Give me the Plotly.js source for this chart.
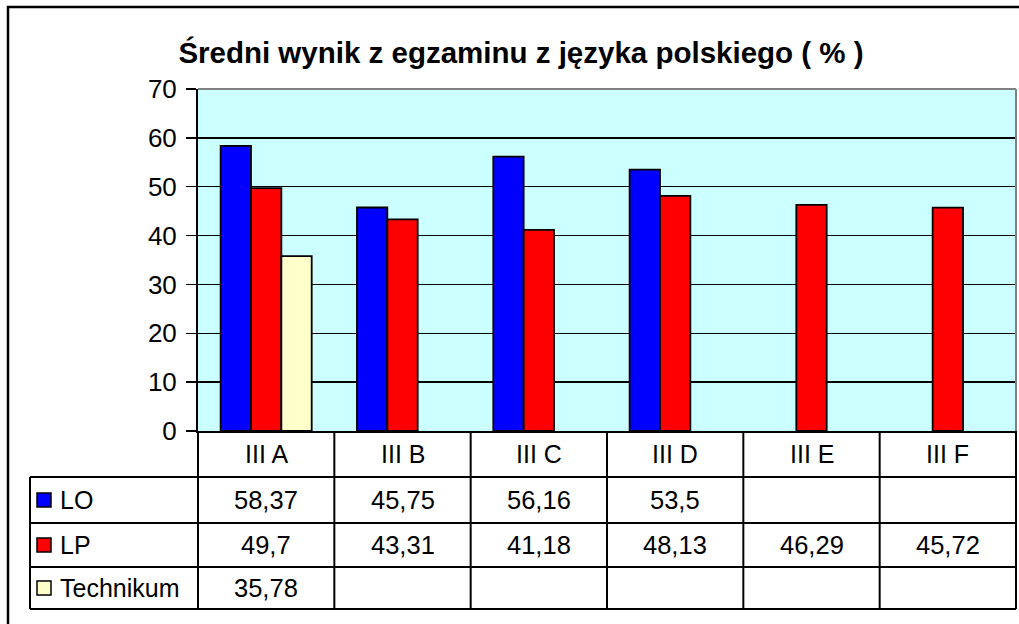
<!DOCTYPE html>
<html>
<head>
<meta charset="utf-8">
<script src="https://cdn.plot.ly/plotly-3.0.1.min.js"></script>
<style>html,body{margin:0;padding:0;background:#fff;}#chart{width:1019px;height:624px;}</style>
</head>
<body>
<div id="chart"></div>
<script>
var categories = ["III A", "III B", "III C", "III D", "III E", "III F"];
var seriesNames = ["LO", "LP", "Technikum"];
var LO = [58.37, 45.75, 56.16, 53.5, null, null];
var LP = [49.7, 43.31, 41.18, 48.13, 46.29, 45.72];
var Technikum = [35.78, null, null, null, null, null];
var seriesValues = [LO, LP, Technikum];
var seriesColors = ["#0000FF", "#FF0000", "#FFFFCC"];
var yTicks = [0, 10, 20, 30, 40, 50, 60, 70];
var titleText = "Średni wynik z egzaminu z języka polskiego ( % )";

// geometry (pixels)
var W = 1019, H = 624;
var L = 198, R = 1016, T = 89, B = 431;
var PW = R - L, PH = B - T;
function px(x) { return (x - L) / PW; }
function py(y) { return (B - y) / PH; }
var rowBottoms = [477, 523, 567, 609];
var legendLeft = 30;
var FONT = "Arial, 'Liberation Sans', sans-serif";

var traces = seriesNames.map(function (n, k) {
  return {
    type: "bar", name: n, x: categories, y: seriesValues[k],
    marker: { color: seriesColors[k], line: { color: "#000", width: 1.8 } },
    hoverinfo: "x+y"
  };
});

var shapes = [];
var annotations = [];
var n = categories.length;
rowBottoms.forEach(function (yb) {
  shapes.push({ type: "line", xref: "paper", yref: "paper",
    x0: px(legendLeft), x1: 1, y0: py(yb), y1: py(yb),
    line: { color: "#000", width: 2 } });
});
shapes.push({ type: "line", xref: "paper", yref: "paper", x0: px(legendLeft), x1: px(legendLeft),
  y0: py(rowBottoms[0]), y1: py(rowBottoms[3]), line: { color: "#000", width: 2 } });
for (var i = 0; i <= n; i++) {
  shapes.push({ type: "line", xref: "paper", yref: "paper", x0: i / n, x1: i / n,
    y0: 0, y1: py(rowBottoms[3]), line: { color: "#000", width: 2 } });
}
shapes.push({ type: "line", xref: "paper", yref: "paper", x0: 0, x1: 1, y0: 1, y1: 1, line: { color: "#808080", width: 2 } });
shapes.push({ type: "line", xref: "paper", yref: "paper", x0: 1, x1: 1, y0: 0, y1: 1, line: { color: "#808080", width: 2 } });
shapes.push({ type: "rect", xref: "paper", yref: "paper", x0: px(8), x1: px(1040), y0: py(7), y1: py(660),
  line: { color: "#000", width: 2.5 }, layer: "below" });

categories.forEach(function (c, i) {
  annotations.push({ xref: "paper", yref: "paper", x: (i + 0.5) / n, y: py((B + rowBottoms[0]) / 2),
    text: c, showarrow: false, xanchor: "center", yanchor: "middle",
    font: { family: FONT, size: 25, color: "#000" } });
});
var rowTops = [rowBottoms[0], rowBottoms[1], rowBottoms[2]];
seriesNames.forEach(function (s, k) {
  var yc = (rowTops[k] + rowBottoms[k + 1]) / 2;
  shapes.push({ type: "rect", xref: "paper", yref: "paper", x0: px(37), x1: px(51),
    y0: py(yc - 7), y1: py(yc + 7), fillcolor: seriesColors[k], line: { color: "#000", width: 1.5 } });
  annotations.push({ xref: "paper", yref: "paper", x: px(58), y: py(yc), text: s, showarrow: false,
    xanchor: "left", yanchor: "middle", font: { family: FONT, size: 25, color: "#000" } });
  seriesValues[k].forEach(function (v, i) {
    if (v === null) return;
    annotations.push({ xref: "paper", yref: "paper", x: (i + 0.5) / n, y: py(yc),
      text: String(v).replace(".", ","), showarrow: false, xanchor: "center", yanchor: "middle",
      font: { family: FONT, size: 25.5, color: "#000" } });
  });
});

var layout = {
  width: W, height: H,
  margin: { l: L, r: W - R, t: T, b: H - B, pad: 0 },
  paper_bgcolor: "#FFFFFF", plot_bgcolor: "#CCFFFF",
  title: { text: "<b>" + titleText + "</b>", x: 521 / W, xanchor: "center", xref: "container",
    y: 1 - 53 / H, yanchor: "middle", yref: "container",
    font: { family: FONT, size: 29.5, color: "#000" } },
  barmode: "group", bargap: 0.332, bargroupgap: 0,
  showlegend: false,
  xaxis: { type: "category", range: [-0.5, n - 0.5], showticklabels: false, ticks: "",
    showline: true, linecolor: "#000", linewidth: 2, showgrid: false, zeroline: false, fixedrange: true },
  yaxis: { range: [0, 70], tickvals: yTicks, ticktext: yTicks.map(String), ticks: "outside", ticklen: 10,
    tickwidth: 1.5, tickcolor: "#000", showline: true, linecolor: "#000", linewidth: 2,
    showgrid: true, gridcolor: "#000", gridwidth: 1.5, zeroline: false, ticklabelstandoff: 4,
    tickfont: { family: FONT, size: 26, color: "#000" }, fixedrange: true },
  shapes: shapes, annotations: annotations
};

Plotly.newPlot("chart", traces, layout, { displayModeBar: false, staticPlot: true });
</script>
</body>
</html>
